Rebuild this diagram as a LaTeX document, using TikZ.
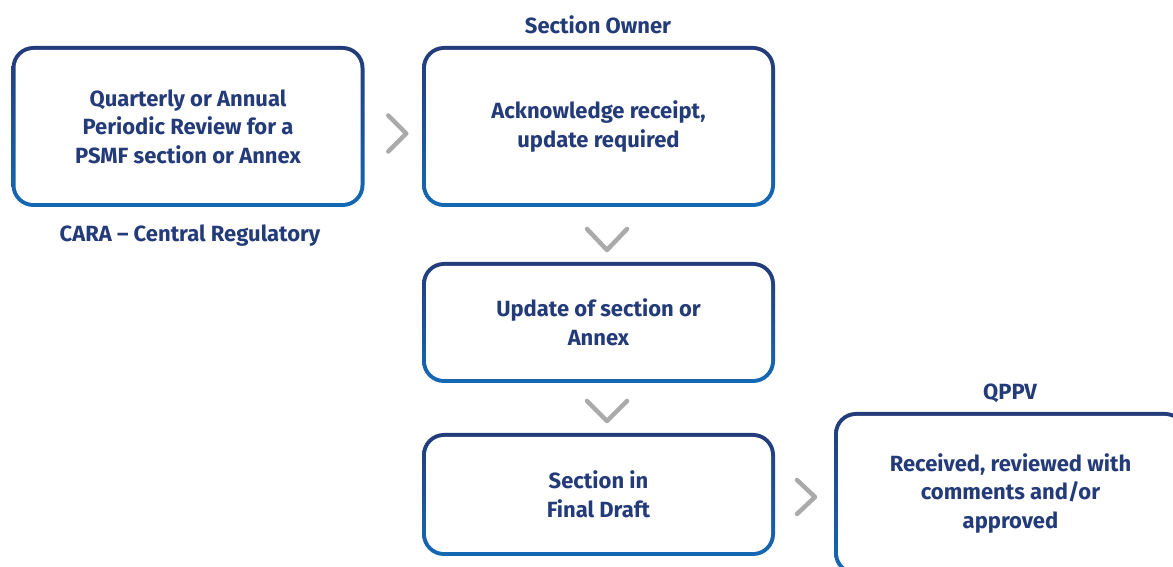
\documentclass[tikz,border=0pt]{standalone}
\usepackage{fontspec}
\setmainfont{Fira Sans}
\usetikzlibrary{calc}
\definecolor{navy}{RGB}{36,59,122}
\definecolor{blueb}{RGB}{20,105,180}
\definecolor{chev}{RGB}{170,170,170}
\tikzset{
  stepbox/.style={minimum width=353pt, minimum height=#1, rounded corners=22pt,
    top color=navy, bottom color=blueb, draw=none, align=center, text=navy,
    font=\bfseries\fontsize{22}{28.5}\selectfont,
    path picture={\fill[white, rounded corners=18pt]
      ([shift={(4pt,4pt)}]path picture bounding box.south west) rectangle
      ([shift={(-4pt,-4pt)}]path picture bounding box.north east);}},
  tag/.style={text=navy, font=\bfseries\fontsize{22}{26}\selectfont},
  chevron/.style={chev, line width=4.5pt, line cap=round, line join=round}
}
\begin{document}
\begin{tikzpicture}[x=1pt,y=1pt]
\useasboundingbox (0,0) rectangle (1173,567);
\clip (0,0) rectangle (1173,567);
% boxes
\node[stepbox=161pt] (cara) at (188,440.5) {Quarterly or Annual\\Periodic Review for a\\PSMF section or Annex};
\node[stepbox=161pt] (owner) at (598.5,440.5) {Acknowledge receipt,\\update required};
\node[stepbox=121pt] (update) at (598.5,244.5) {Update of section or\\Annex};
\node[stepbox=123pt] (final) at (598.5,72.5) {Section in\\Final Draft};
\node[stepbox=163pt] (qppv) at (1010.5,73.5) {Received, reviewed with\\comments and/or\\approved};
% role labels
\node[tag] (ownertag) at (598,542) {Section Owner};
\node[tag] (caratag) at (190,331) {CARA – Central Regulatory};
\node[tag] (qppvtag) at (1010,174) {QPPV};
% chevrons
\coordinate (g1) at ($(cara.east)!.5!(owner.west)$);
\coordinate (g2) at ($(owner.south)!.5!(update.north)$);
\coordinate (g3) at ($(update.south)!.5!(final.north)$);
\coordinate (g4) at ($(final.east)!.5!(qppv.west)$);
\draw[chevron] (g1) ++(-5,11) -- ++(18,-18) -- ++(-18,-18);
\draw[chevron] (g2) ++(-11.5,5.5) -- ++(20,-21) -- ++(20,21);
\draw[chevron] (g3) ++(-11.5,7) -- ++(20,-20) -- ++(20,20);
\draw[chevron] (g4) ++(-7.5,14) -- ++(18,-17) -- ++(-18,-17);
\end{tikzpicture}
\end{document}
